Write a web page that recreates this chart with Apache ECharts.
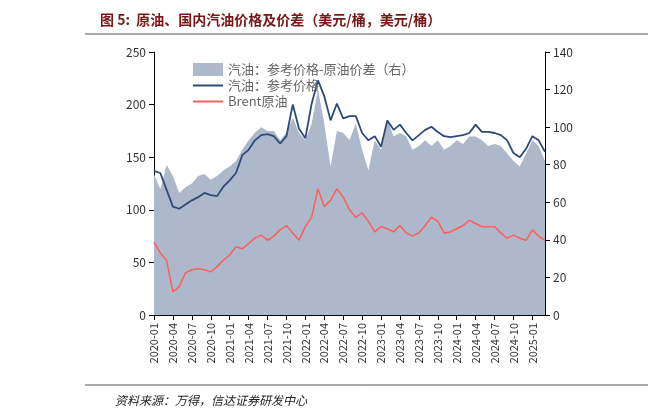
<!DOCTYPE html>
<html><head><meta charset="utf-8">
<script src="https://cdn.jsdelivr.net/npm/echarts@6/dist/echarts.min.js"></script>
<style>body{margin:0;background:#fff}#c{width:648px;height:417px}</style></head>
<body><div id="c"></div>
<script>
const months = [];
for (let y = 2020; y <= 2025; y++) for (let m = 1; m <= 12; m++) { if (y === 2025 && m > 3) break; months.push(y + '-' + String(m).padStart(2, '0')); }
const gasoline = [137,135,119,103,101,105,109,112,116,114,113,122,128,135,152,157,166,171,172,170,163,170,200,177,168,201,223,208,185,201,187,189,189,173,166,170,160,185,176,181,173,166,171,176,179,174,170,169,170,171,173,181,174,174,173,171,166,154,150,158,170,166,155];
const brent = [69,59,52,22,27,40,43,44,43,41,46,52,57,65,63,68,73,76,71,75,81,85,78,71,84,93,120,103,109,120,112,100,93,97,89,79,84,82,79,85,78,75,78,85,93,89,78,79,82,85,90,87,84,84,84,78,73,76,73,71,81,75,71];
const spread = [75,67,80,74,65,68,70,74,75,72,74,77,79,82,88,93,97,100,98,98,93,97,105,97,93,102,120,102,79,98,97,93,102,88,77,93,88,104,95,97,95,88,90,93,90,93,88,90,93,91,95,95,93,90,91,90,86,82,79,86,93,90,82];
const leftTicks = [0,50,100,150,200,250];
const rightTicks = [0,20,40,60,80,100,120,140];

const chart = echarts.init(document.getElementById('c'));
const font = '"Noto Sans CJK SC", sans-serif';
const lineIcon = 'path://M0,0 L30,0 L30,2 L0,2 Z';
chart.setOption({
  animation: false,
  textStyle: {fontFamily: font},
  title: [
    {text: '图 5:  原油、国内汽油价格及价差（美元/桶，美元/桶）', left: 95, top: 8,
     textStyle: {fontSize: 14, fontWeight: 'bold', color: '#7a1616', fontFamily: font}},
    {text: '资料来源：万得，信达证券研发中心', left: 110, top: 389,
     textStyle: {fontSize: 12, fontWeight: 'normal', fontStyle: 'italic', color: '#222', fontFamily: font}}
  ],
  graphic: [
    {type: 'line', shape: {x1: 85, y1: 34, x2: 648, y2: 34}, style: {stroke: '#555', lineWidth: 1}},
    {type: 'line', shape: {x1: 85, y1: 385, x2: 648, y2: 385}, style: {stroke: '#555', lineWidth: 1}}
  ],
  legend: {
    orient: 'vertical', left: 188, top: 58, itemGap: 3, itemWidth: 30, itemHeight: 13,
    textStyle: {fontSize: 13, color: '#666', fontFamily: font},
    data: [
      {name: '汽油：参考价格-原油价差（右）', icon: 'rect'},
      {name: '汽油：参考价格', icon: lineIcon, itemStyle: {color: '#2e4a78'}},
      {name: 'Brent原油', icon: lineIcon, itemStyle: {color: '#ff5c5c'}}
    ]
  },
  grid: {left: 154, right: 103, top: 52, bottom: 102},
  xAxis: {
    type: 'category', data: months, boundaryGap: false,
    axisLine: {lineStyle: {color: '#000'}},
    axisTick: {interval: 2, lineStyle: {color: '#000'}},
    axisLabel: {interval: 2, rotate: 90, fontSize: 11, color: '#333', fontFamily: font}
  },
  yAxis: [
    {type: 'value', min: 0, max: 250, interval: 50, splitLine: {show: false},
     axisLine: {show: true, lineStyle: {color: '#000'}}, axisTick: {show: true},
     axisLabel: {fontSize: 12, color: '#333'}},
    {type: 'value', min: 0, max: 140, interval: 20, splitLine: {show: false},
     axisLine: {show: true, lineStyle: {color: '#000'}}, axisTick: {show: true},
     axisLabel: {fontSize: 12, color: '#333'}}
  ],
  series: [
    {name: '汽油：参考价格-原油价差（右）', type: 'line', yAxisIndex: 1, data: spread,
     symbol: 'none', lineStyle: {width: 0}, itemStyle: {color: '#adb9cb'},
     areaStyle: {color: '#adb9cb', opacity: 1}},
    {name: '汽油：参考价格', type: 'line', data: gasoline, symbol: 'none',
     lineStyle: {width: 1.8, color: '#2e4a78'}, itemStyle: {color: '#2e4a78'}},
    {name: 'Brent原油', type: 'line', data: brent, symbol: 'none',
     lineStyle: {width: 1.5, color: '#ff5c5c'}, itemStyle: {color: '#ff5c5c'}}
  ]
});
</script></body></html>
